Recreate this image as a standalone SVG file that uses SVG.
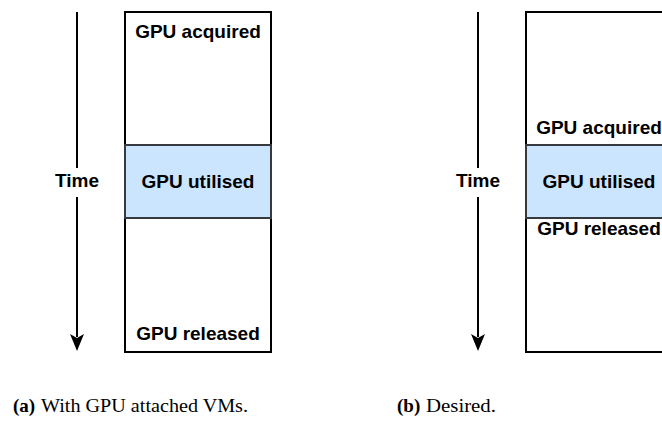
<svg xmlns="http://www.w3.org/2000/svg" width="662" height="427" viewBox="0 0 662 427">
<style>
.box{fill:#ffffff;stroke:#000000;stroke-width:2}
.band{fill:#cce5ff;stroke:#36393d;stroke-width:2}
.lbl{font-family:"Liberation Sans",Arial,sans-serif;font-weight:bold;font-size:19px;fill:#000;text-anchor:middle}
.axis{stroke:#000;stroke-width:2;fill:none}
.head{fill:#000}
.cap{font-family:"Liberation Serif","Times New Roman",serif;font-size:19px;fill:#000}
</style>
<g id="connectors">
<line class="axis" x1="77" y1="12" x2="77" y2="337"/>
<path class="head" d="M70,334 L77,338 L84,334 L77,351 Z"/>
<line class="axis" x1="478" y1="12" x2="478" y2="337"/>
<path class="head" d="M471,334 L478,338 L485,334 L478,351 Z"/>
</g>
<g id="time-a">
<rect x="55" y="168" width="44" height="29" fill="#fff"/>
<text class="lbl" x="77" y="187">Time</text>
</g>
<g id="time-b">
<rect x="456" y="168" width="44" height="29" fill="#fff"/>
<text class="lbl" x="478" y="187">Time</text>
</g>
<g id="vm-a">
<rect class="box" x="125" y="12" width="146" height="340"/>
<rect class="band" x="125" y="145" width="146" height="73"/>
<text class="lbl" x="198" y="38">GPU acquired</text>
<text class="lbl" x="198" y="188">GPU utilised</text>
<text class="lbl" x="198" y="340">GPU released</text>
</g>
<g id="vm-b">
<rect class="box" x="526" y="12" width="146" height="340"/>
<rect class="band" x="526" y="145" width="146" height="73"/>
<text class="lbl" x="599" y="134">GPU acquired</text>
<text class="lbl" x="599" y="188">GPU utilised</text>
<text class="lbl" x="599" y="235">GPU released</text>
</g>
<g id="captions">
<text class="cap" x="13" y="412" font-weight="bold">(a)</text>
<text class="cap" x="41" y="412" textLength="207" lengthAdjust="spacingAndGlyphs">With GPU attached VMs.</text>
<text class="cap" x="397" y="412" font-weight="bold">(b)</text>
<text class="cap" x="426" y="412" textLength="70" lengthAdjust="spacingAndGlyphs">Desired.</text>
</g>
</svg>
